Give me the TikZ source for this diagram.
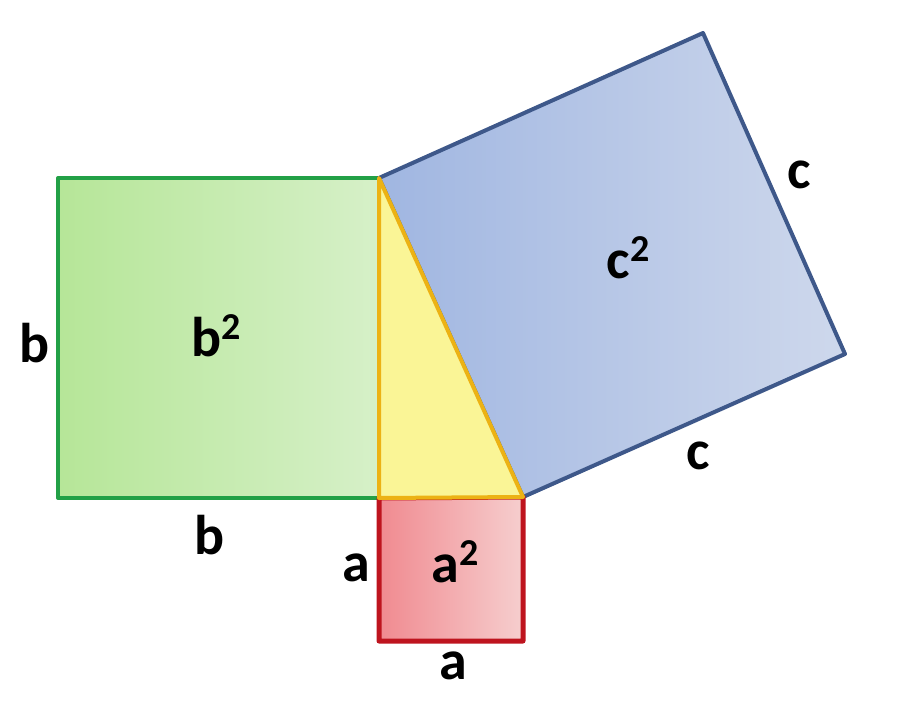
\documentclass[tikz,border=0pt]{standalone}
\usepackage{fontspec}
\setmainfont{Carlito}
\definecolor{gfill1}{RGB}{182,230,152}
\definecolor{gfill2}{RGB}{214,240,200}
\definecolor{gline}{RGB}{34,160,70}
\definecolor{bfill1}{RGB}{160,182,225}
\definecolor{bfill2}{RGB}{206,216,236}
\definecolor{bline}{RGB}{62,88,138}
\definecolor{rfill1}{RGB}{240,138,144}
\definecolor{rfill2}{RGB}{246,206,206}
\definecolor{rline}{RGB}{190,20,30}
\definecolor{yfill}{RGB}{250,245,150}
\definecolor{yline}{RGB}{236,178,20}
\definecolor{shadowc}{RGB}{200,200,200}
\newcommand{\sqr}{\raisebox{0.62ex}{\fontsize{38}{38}\selectfont 2}}
\tikzset{
  lbl/.style={font=\fontsize{56}{60}\selectfont\bfseries, text=black, inner sep=0pt},
  sq/.style={line width=4pt, line join=round},
  shad/.style={fill=shadowc, opacity=0.5, draw=none}
}
\begin{document}
\begin{tikzpicture}[x=1pt,y=-1pt]
\useasboundingbox (0,0) rectangle (908,712);
\coordinate (T) at (379,178);
\coordinate (C) at (379,498);
\coordinate (R) at (523,497);
\coordinate (G1) at (58,178);
\coordinate (G2) at (58,498);
\coordinate (A1) at (379,641);
\coordinate (A2) at (523,641);
\coordinate (B1) at (845,354);
\coordinate (B2) at (703,33);
% soft shadows
\begin{scope}[shift={(4,5)}]
\fill[shad] (G1) -- (T) -- (C) -- (G2) -- cycle;
\fill[shad] (T) -- (B2) -- (B1) -- (R) -- cycle;
\fill[shad] (C) -- (R) -- (A2) -- (A1) -- cycle;
\end{scope}
% green square
\draw[sq, draw=gline, left color=gfill1, right color=gfill2] (G1) -- (T) -- (C) -- (G2) -- cycle;
% blue square
\draw[sq, draw=bline, left color=bfill1, right color=bfill2] (T) -- (B2) -- (B1) -- (R) -- cycle;
% red square
\draw[sq, draw=rline, line width=5pt, left color=rfill1, right color=rfill2] (C) -- (R) -- (A2) -- (A1) -- cycle;
% triangle
\draw[sq, draw=yline, fill=yfill] (T) -- (R) -- (C) -- cycle;
% labels
\node[lbl] (lb1) at (35,343) {b};
\node[lbl] (lb2) at (216,336) {b\sqr};
\node[lbl] (lb3) at (210,535) {b};
\node[lbl] (la1) at (356,568) {a};
\node[lbl] (la2) at (455,562) {a\sqr};
\node[lbl] (la3) at (453,666) {a};
\node[lbl] (lc2) at (628,258) {c\sqr};
\node[lbl] (lc1) at (799,175) {c};
\node[lbl] (lc3) at (698,456) {c};
\end{tikzpicture}
\end{document}
